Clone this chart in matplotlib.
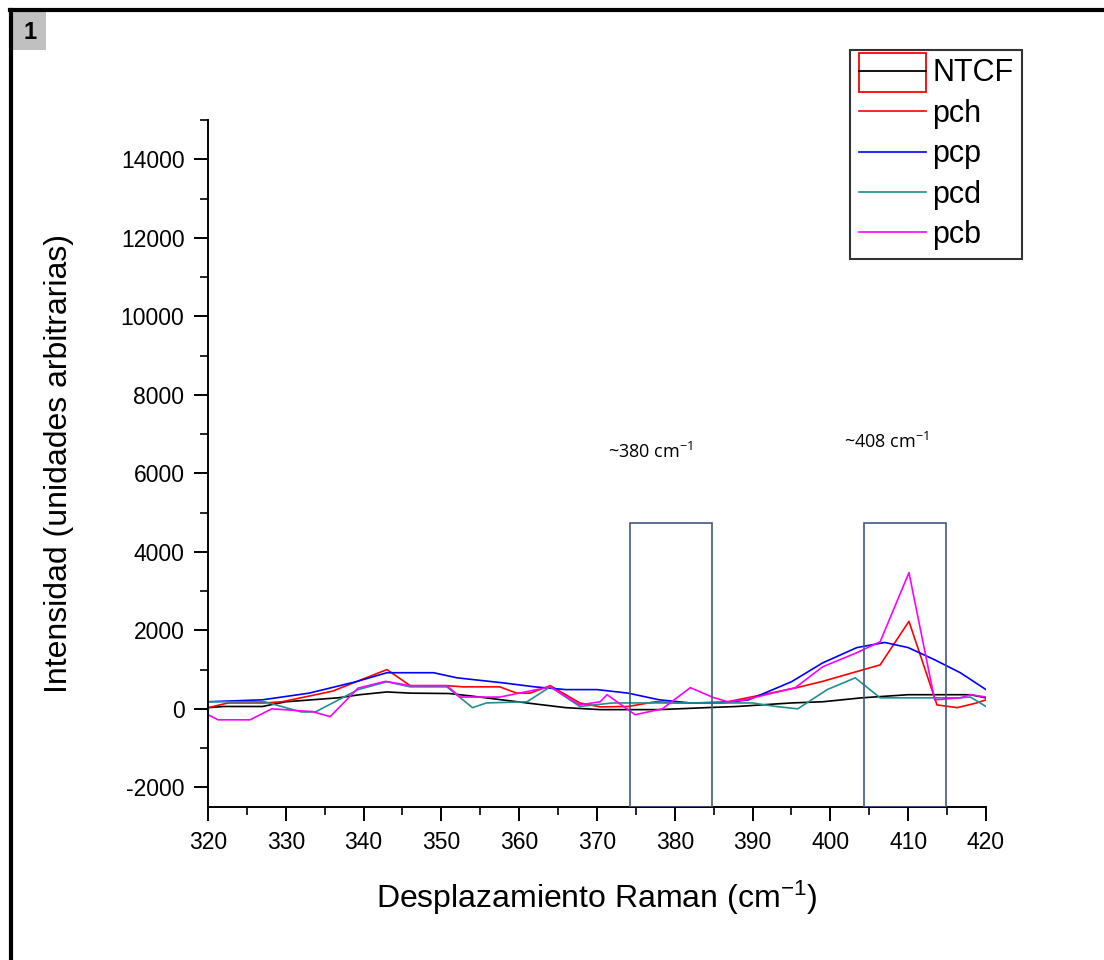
import matplotlib
matplotlib.use("Agg")
import matplotlib.pyplot as plt
from matplotlib.patches import Rectangle
from matplotlib.lines import Line2D
from matplotlib.legend_handler import HandlerBase
from matplotlib.ticker import MultipleLocator

plt.rcParams["font.family"] = ["Liberation Sans", "DejaVu Sans"]
plt.rcParams["mathtext.default"] = "regular"
plt.rcParams["axes.unicode_minus"] = False

# Raman spectra
x_ntcf = [320, 322, 327, 330, 336.7, 339.5, 343, 346, 351, 353.7, 361.8, 366, 370.4, 378, 384, 388, 395, 399, 404, 410, 414, 418, 420]
y_ntcf = [30, 60, 60, 180, 280, 360, 430, 400, 390, 330, 130, 30, -20, -20, 30, 60, 150, 180, 280, 360, 360, 360, 280]

x_pch = [320, 322.6, 327.3, 329.5, 336, 343, 346, 350.7, 352.8, 357.5, 359.7, 361.4, 364, 367.8, 370.4, 374, 377.5, 380.4, 382.6, 386.8, 395.5, 399, 403.4, 406.4, 410.1, 413.7, 416.3, 418.8, 420]
y_pch = [30, 150, 150, 180, 450, 1000, 590, 590, 560, 560, 400, 400, 590, 150, 50, 60, 180, 150, 150, 180, 530, 700, 950, 1120, 2230, 100, 30, 150, 230]

x_pcp = [320, 327, 333, 339, 343, 346, 349, 352, 358, 362, 366, 370, 374, 378, 382, 386, 389.5, 395, 399, 403.4, 407, 410, 413.4, 416.7, 420]
y_pcp = [180, 230, 400, 690, 920, 920, 920, 790, 660, 560, 490, 490, 400, 230, 150, 150, 230, 690, 1170, 1560, 1690, 1560, 1250, 920, 490]

x_pcd = [320, 327.3, 330, 332, 333.8, 339.3, 343, 346, 350.7, 354, 355.8, 361, 364, 367.8, 372, 380, 390, 393, 395.8, 399.6, 403.2, 406.4, 413.2, 416.5, 418, 420]
y_pcd = [180, 180, 30, -80, -80, 490, 690, 560, 560, 30, 150, 180, 560, 60, 150, 150, 150, 60, 0, 490, 790, 280, 280, 280, 300, 60]

x_pcb = [320, 321.3, 325.4, 328.2, 333.4, 335.7, 339.3, 342.8, 346, 350.7, 352.4, 357.5, 364, 367.8, 370.4, 371.3, 374.9, 378.4, 382, 384.8, 386.8, 389, 395.5, 399, 403.4, 406.4, 410.1, 413.4, 416.7, 418, 420]
y_pcb = [-150, -280, -280, 0, -70, -200, 530, 700, 590, 590, 300, 300, 560, 100, 180, 360, -150, 0, 540, 300, 180, 230, 540, 1070, 1430, 1710, 3470, 230, 280, 360, 300]

series = ["NTCF", "pch", "pcp", "pcd", "pcb"]
colors = ["black", "#ff0000", "#0000ff", "#1f8f8f", "#ff00ff"]

box_ranges = [(374.2, 384.8), (404.3, 414.9)]
box_top = 4730
box_labels = ["~380 cm$^{-1}$", "~408 cm$^{-1}$"]
box_label_pos = [(371.4, 6400), (401.7, 6650)]


class BoxLineHandler(HandlerBase):
    # Origin style: line sample with a red frame around it
    def create_artists(self, legend, orig, xd, yd, w, h, fontsize, trans):
        r = Rectangle((-xd, -yd - 0.5 * h), w, 1.85 * h, facecolor="none",
                      edgecolor="#ff0000", lw=1.3, transform=trans)
        ln = Line2D([-xd, -xd + w], [-yd + h / 2, -yd + h / 2], color="black",
                    lw=1.3, transform=trans)
        return [r, ln]


fig = plt.figure(figsize=(11.04, 9.6), dpi=100)
ax = fig.add_axes([0.1884, 0.1594, 0.7047, 0.7156])

data = [(x_ntcf, y_ntcf), (x_pch, y_pch), (x_pcp, y_pcp), (x_pcd, y_pcd), (x_pcb, y_pcb)]
handles = []
for (xs, ys), name, c in zip(data, series, colors):
    h, = ax.plot(xs, ys, color=c, lw=1.2, label=name)
    handles.append(h)

for (x0, x1), lab, (lx, ly) in zip(box_ranges, box_labels, box_label_pos):
    ax.add_patch(Rectangle((x0, -2500), x1 - x0, box_top + 2500, facecolor="none",
                           edgecolor="#3d5a86", lw=1.2, zorder=5))
    ax.text(lx, ly, lab, fontsize=13, family=["Open Sans", "DejaVu Sans"])

ax.set_xlim(320, 420)
ax.set_ylim(-2500, 15000)
ax.xaxis.set_major_locator(MultipleLocator(10))
ax.xaxis.set_minor_locator(MultipleLocator(5))
ax.yaxis.set_major_locator(MultipleLocator(2000))
ax.yaxis.set_minor_locator(MultipleLocator(1000))
ax.spines["top"].set_visible(False)
ax.spines["right"].set_visible(False)
for s in ("left", "bottom"):
    ax.spines[s].set_linewidth(1.4)
ax.tick_params(which="major", direction="out", length=10, width=1.4, labelsize=16.5, pad=7)
ax.tick_params(which="minor", direction="out", length=6, width=1.2)

ax.set_xlabel("Desplazamiento Raman (cm$^{-1}$)", fontsize=23)
ax.set_ylabel("Intensidad (unidades arbitrarias)", fontsize=23)
ax.xaxis.set_label_coords(0.5, -0.105)
ax.yaxis.set_label_coords(-0.172, 0.5)

leg = fig.legend(handles, series, loc="upper left", bbox_to_anchor=(0.770, 0.948),
                 fontsize=22, frameon=True, fancybox=False, edgecolor="black",
                 handlelength=2.2, handletextpad=0.22, borderpad=0.28,
                 labelspacing=0.34, borderaxespad=0,
                 handler_map={handles[0]: BoxLineHandler()})
leg.get_frame().set_linewidth(1.5)

# panel frame and number tag
fig.add_artist(Line2D([0.010, 0.010], [0.0, 0.990], color="black", lw=3, transform=fig.transFigure))
fig.add_artist(Line2D([0.009, 1.0], [0.990, 0.990], color="black", lw=3, transform=fig.transFigure))
fig.add_artist(Rectangle((0.012, 0.948), 0.030, 0.039, facecolor="#c0c0c0", edgecolor="none",
                         transform=fig.transFigure))
fig.text(0.027, 0.966, "1", fontsize=17, fontweight="bold", ha="center", va="center")

fig.savefig("out.png", dpi=100)
